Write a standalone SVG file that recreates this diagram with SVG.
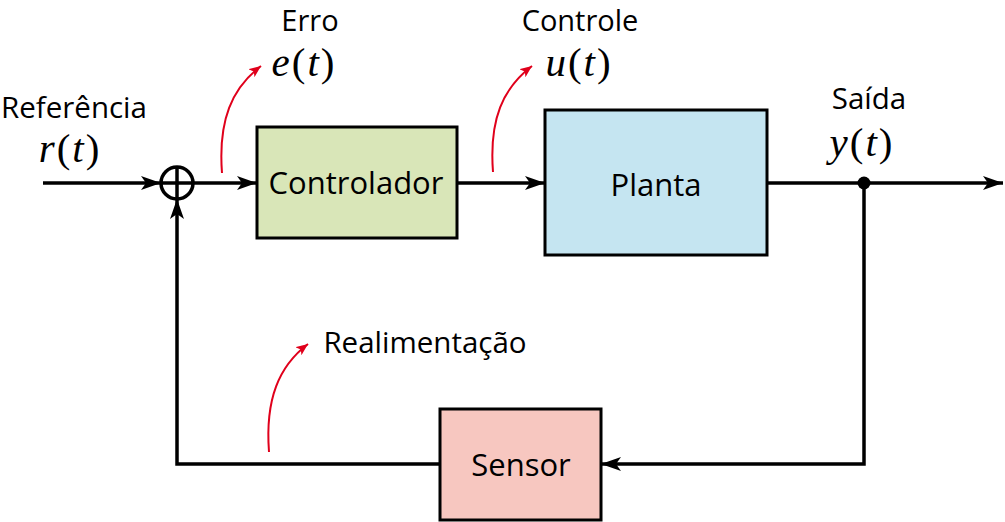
<svg xmlns="http://www.w3.org/2000/svg" width="1005" height="522" viewBox="0 0 1005 522">
<defs>
<marker id="ah" viewBox="0 0 20 14" refX="20" refY="7" markerWidth="20" markerHeight="14" markerUnits="userSpaceOnUse" orient="auto">
<path d="M0,0 L20,7 L0,14 L5,7 Z" fill="#000"/>
</marker>
<marker id="rh" viewBox="0 0 12 10" refX="12" refY="5" markerWidth="12" markerHeight="10" markerUnits="userSpaceOnUse" orient="auto">
<path d="M0,0 L12,5 L0,10 L3,5 Z" fill="#e0001b"/>
</marker>
<style>
.lbl{font-family:"Open Sans","Liberation Sans",sans-serif;font-size:29.5px;fill:#000;text-anchor:middle}
.top{font-size:29px}
.box{font-family:"Open Sans","Liberation Sans",sans-serif;font-size:31px;fill:#000;text-anchor:middle}
.m{font-family:"Liberation Serif","DejaVu Serif",serif;font-size:41px;letter-spacing:2px;fill:#000;text-anchor:middle}
.m .i{font-style:italic}
.w{stroke:#000;stroke-width:3.5;fill:none}
.r{stroke:#e0001b;stroke-width:2;fill:none}
.blk{stroke:#000;stroke-width:3}
</style>
</defs>
<g id="connectors">
<line class="w" x1="43" y1="183" x2="161" y2="183" marker-end="url(#ah)"/>
<line class="w" x1="193" y1="183" x2="257" y2="183" marker-end="url(#ah)"/>
<line class="w" x1="457" y1="183" x2="545" y2="183" marker-end="url(#ah)"/>
<line class="w" x1="767" y1="183" x2="1003" y2="183" marker-end="url(#ah)"/>
<polyline class="w" points="864,183 864,464 601,464" marker-end="url(#ah)"/>
<polyline class="w" points="440,464 177,464 177,199" marker-end="url(#ah)"/>
<circle cx="864" cy="183" r="6.5" fill="#000"/>
<path class="r" d="M222,173 C218,120 232,88 261,66" marker-end="url(#rh)"/>
<path class="r" d="M493,172 C489,119 503,88 532,66" marker-end="url(#rh)"/>
<path class="r" d="M269,452 C265,399 279,366 308,344" marker-end="url(#rh)"/>
</g>
<g id="sum">
<circle cx="177" cy="183" r="16" fill="#fff" stroke="#000" stroke-width="3.5"/>
<line x1="161" y1="183" x2="193" y2="183" stroke="#000" stroke-width="3.5"/>
<line x1="177" y1="167" x2="177" y2="199" stroke="#000" stroke-width="3.5"/>
</g>
<g id="controlador">
<rect x="257" y="127" width="200" height="111" fill="#d9e6b8" class="blk"/>
<text class="box" x="356" y="194">Controlador</text>
</g>
<g id="planta">
<rect x="545" y="110" width="222" height="145" fill="#c5e5f1" class="blk"/>
<text class="box" x="656" y="196">Planta</text>
</g>
<g id="sensor">
<rect x="440" y="409" width="161" height="111" fill="#f7c7c0" class="blk"/>
<text class="box" x="521" y="476">Sensor</text>
</g>
<g id="labels">
<text class="lbl" x="74" y="118">Referência</text>
<text class="m" x="70" y="162"><tspan class="i">r</tspan>(<tspan class="i">t</tspan>)</text>
<text class="lbl top" x="310" y="31">Erro</text>
<text class="m" x="304" y="76"><tspan class="i">e</tspan>(<tspan class="i">t</tspan>)</text>
<text class="lbl top" x="580" y="31">Controle</text>
<text class="m" x="579" y="76"><tspan class="i">u</tspan>(<tspan class="i">t</tspan>)</text>
<text class="lbl" x="869" y="109">Saída</text>
<text class="m" x="862" y="156"><tspan class="i">y</tspan>(<tspan class="i">t</tspan>)</text>
<text class="lbl" x="425" y="353">Realimentação</text>
</g>
</svg>
